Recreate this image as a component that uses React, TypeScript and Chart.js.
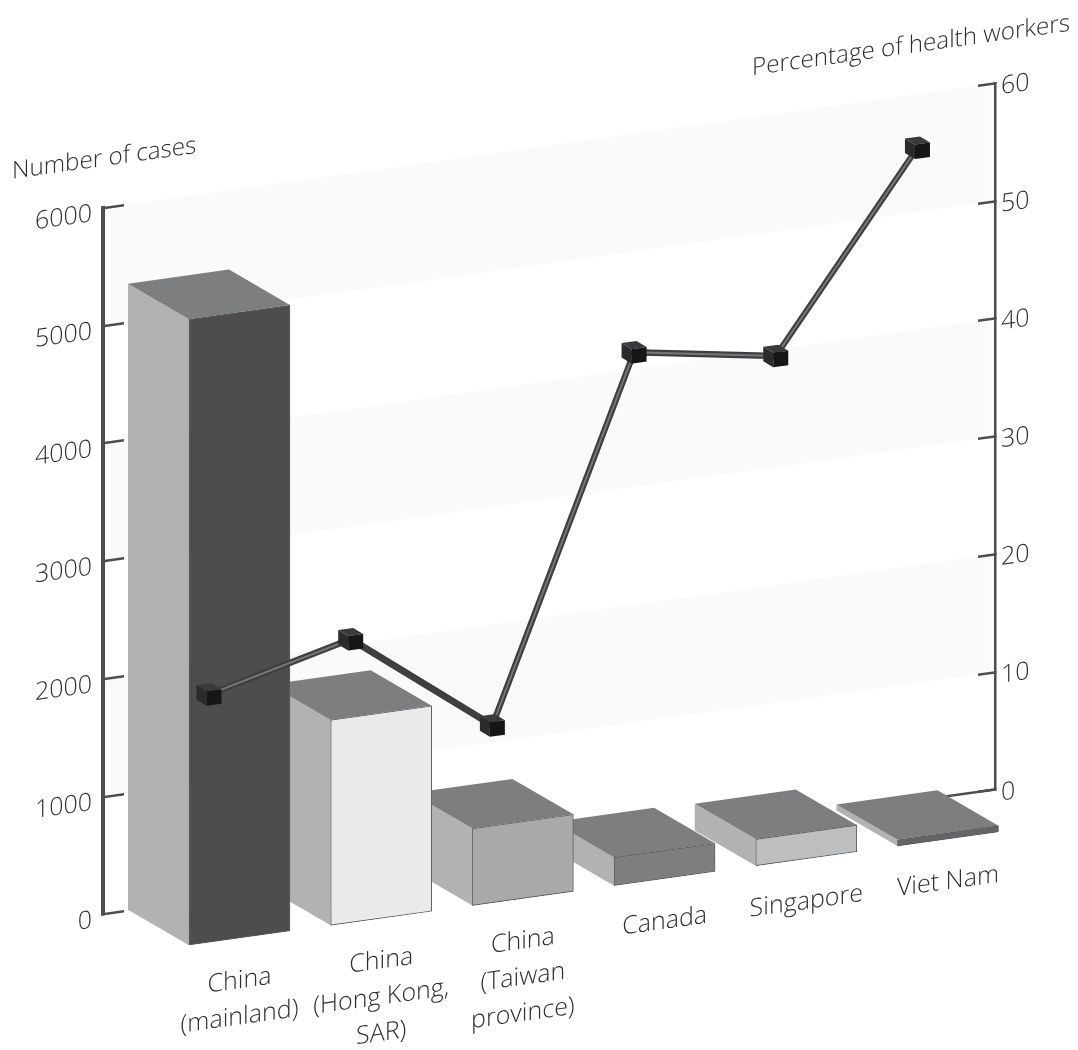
import React, { useEffect, useRef } from "react";
import { Chart, registerables } from "chart.js";

Chart.register(...registerables);

const categories: string[][] = [
  ["China", "(mainland)"],
  ["China", "(Hong Kong,", "SAR)"],
  ["China", "(Taiwan", "province)"],
  ["Canada"],
  ["Singapore"],
  ["Viet Nam"],
];
const cases = [5327, 1755, 665, 251, 238, 63];
const healthWorkerPct = [19.3, 22.3, 13.3, 43.3, 41.3, 57.3];
const frontColors = ["#4d4d4f", "#e9ebea", "#a8a9ab", "#7d7e80", "#bcbec0", "#636466"];
const bandRanges = [[10, 20], [30, 40], [50, 60]];
const leftTitle = "Number of cases";
const rightTitle = "Percentage of health workers";

const SHEAR = -0.14;
const DEPTH_X = 61;
const DEPTH_Y = 44;
const INK = "#2e2e30";
const AXIS = "#4d4d4f";
const FONT = { family: "'Open Sans'", weight: "300" as const, size: 25 };
const TITLE_SIZE = 24.2;
const Y_LABEL_NUDGE = 4.5;

function poly(ctx: CanvasRenderingContext2D, pts: number[][], fill: string) {
  ctx.beginPath();
  pts.forEach((p, i) => (i ? ctx.lineTo(p[0], p[1]) : ctx.moveTo(p[0], p[1])));
  ctx.closePath();
  ctx.fillStyle = fill;
  ctx.fill();
}

function nudgeLabels(scale: any, dy: number) {
  if (scale.__nudged) return;
  scale.__nudged = true;
  const original = scale.drawLabels;
  scale.drawLabels = function (area: any) {
    const c = this.ctx;
    c.save();
    c.translate(0, dy);
    original.call(this, area);
    c.restore();
  };
}

const scenePlugin = {
  id: "scene",
  beforeDraw(chart: any) {
    const { ctx, chartArea: a, scales } = chart;
    nudgeLabels(scales.y, Y_LABEL_NUDGE);
    nudgeLabels(scales.y1, Y_LABEL_NUDGE);
    ctx.save();
    // the whole picture is drawn on a sheared plane, text included
    ctx.transform(1, SHEAR, 0, 1, 0, -SHEAR * a.left);
    ctx.fillStyle = "#fafafa";
    bandRanges.forEach(([lo, hi]) => {
      const y0 = scales.y1.getPixelForValue(hi);
      const y1 = scales.y1.getPixelForValue(lo);
      ctx.fillRect(a.left, y0, a.right - a.left - 4, y1 - y0);
    });
    // floor edge reaching the right axis behind the last block
    ctx.strokeStyle = AXIS;
    ctx.lineWidth = 2.5;
    ctx.beginPath();
    ctx.moveTo(a.right - 50, a.bottom);
    ctx.lineTo(a.right, a.bottom);
    ctx.stroke();
    // axis titles
    ctx.fillStyle = INK;
    ctx.font = `${FONT.weight} ${TITLE_SIZE}px ${FONT.family}`;
    ctx.textBaseline = "alphabetic";
    ctx.textAlign = "left";
    ctx.fillText(leftTitle, a.left - 91, a.top - 42);
    ctx.textAlign = "right";
    ctx.fillText(rightTitle, a.right + 75, a.top - 42);
  },
  beforeDatasetDraw(chart: any, args: any) {
    const { ctx } = chart;
    const meta = args.meta;
    if (meta.type === "bar") {
      ctx.save();
      ctx.translate(0, DEPTH_Y);
      // far blocks first, so that near blocks cover them
      for (let i = meta.data.length - 1; i >= 0; i--) {
        const el = meta.data[i];
        const { x, y, base, width } = el.getProps(["x", "y", "base", "width"], true);
        const l = x - width / 2;
        const r = x + width / 2;
        poly(ctx, [[l, y], [l, base], [l - DEPTH_X, base - DEPTH_Y], [l - DEPTH_X, y - DEPTH_Y]], "#b1b2b4");
        poly(ctx, [[l, y], [r, y], [r - DEPTH_X, y - DEPTH_Y], [l - DEPTH_X, y - DEPTH_Y]], "#7d7e80");
        el.draw(ctx);
      }
      ctx.restore();
      return false;
    }
    ctx.save();
    ctx.translate(-DEPTH_X / 2, DEPTH_Y / 2);
    return true;
  },
  afterDatasetDraw(chart: any, args: any) {
    const { ctx } = chart;
    if (args.index === 2) {
      args.meta.data.forEach((el: any) => {
        const { x, y } = el.getProps(["x", "y"], true);
        const fl = x - 2.5, fr = x + 12.5, ft = y - 3.5, fb = y + 11;
        poly(ctx, [[fl, ft], [fl, fb], [fl - 10, fb - 7.5], [fl - 10, ft - 7.5]], "#2b2b2d");
        poly(ctx, [[fl, ft], [fr, ft], [fr - 10, ft - 7.5], [fl - 10, ft - 7.5]], "#3a3a3c");
        poly(ctx, [[fl, ft], [fr, ft], [fr, fb], [fl, fb]], "#161617");
      });
    }
    ctx.restore();
  },
  afterDraw(chart: any) {
    chart.ctx.restore();
  },
};

export default function App() {
  const ref = useRef<HTMLCanvasElement>(null);
  useEffect(() => {
    const toPoints = (arr: number[]) => arr.map((v, i) => ({ x: i, y: v }));
    const chart = new Chart(ref.current as HTMLCanvasElement, {
      type: "bar",
      data: {
        datasets: [
          {
            type: "bar",
            data: toPoints(cases),
            backgroundColor: frontColors,
            borderColor: "#5f6062",
            borderWidth: 1,
            borderSkipped: false,
            barThickness: 101,
            yAxisID: "y",
            order: 3,
            clip: false,
          },
          {
            type: "line",
            data: toPoints(healthWorkerPct),
            borderColor: "#3f3f41",
            borderWidth: 6.5,
            pointRadius: 0,
            tension: 0,
            yAxisID: "y1",
            order: 2,
            clip: false,
          },
          {
            type: "line",
            data: toPoints(healthWorkerPct),
            borderColor: "#77787a",
            borderWidth: 2,
            pointRadius: 0,
            tension: 0,
            yAxisID: "y1",
            order: 1,
            clip: false,
            segment: { borderColor: (c: any) => (c.p0DataIndex === 1 ? "#3f3f41" : "#77787a") },
          },
        ] as any,
      },
      options: {
        animation: false,
        responsive: false,
        devicePixelRatio: 1,
        events: [],
        // the x axis box runs past the canvas so the sheared labels are not cut by its clip
        layout: { autoPadding: false, padding: { top: 208, left: 0, right: 0, bottom: -300 } },
        plugins: { legend: { display: false }, tooltip: { enabled: false }, title: { display: false } },
        scales: {
          x: {
            type: "linear",
            position: "bottom",
            offset: false,
            min: -0.9633,
            max: 5.332,
            afterFit: (s: any) => { s.height = 435.5; },
            grid: { display: false },
            border: { display: false },
            ticks: {
              stepSize: 1,
              includeBounds: false,
              autoSkip: false,
              maxRotation: 0,
              minRotation: 0,
              padding: 59.5,
              color: INK,
              font: { ...FONT, lineHeight: 1.45 },
              callback: (v: any) => categories[v as number],
            },
          },
          y: {
            type: "linear",
            position: "left",
            min: 0,
            max: 6000,
            afterFit: (s: any) => { s.width = 103; },
            border: { display: true, color: AXIS, width: 4 },
            grid: { drawOnChartArea: false, drawTicks: true, tickLength: -21, color: AXIS, lineWidth: 2.5 },
            ticks: { stepSize: 1000, padding: 32, color: INK, font: FONT, callback: (v: any) => String(v) },
          },
          y1: {
            type: "linear",
            position: "right",
            min: 0,
            max: 60,
            afterFit: (s: any) => { s.width = 83; },
            border: { display: true, color: AXIS, width: 2.5 },
            grid: { drawOnChartArea: false, drawTicks: true, tickLength: -17, color: AXIS, lineWidth: 2.5 },
            ticks: { stepSize: 10, padding: 23, color: INK, font: FONT, callback: (v: any) => String(v) },
          },
        },
      } as any,
      plugins: [scenePlugin],
    });
    return () => chart.destroy();
  }, []);
  return (
    <canvas
      ref={ref}
      width={1078}
      height={1050}
      style={{ position: "absolute", left: 0, top: 0, width: 1078, height: 1050, display: "block" }}
    />
  );
}
